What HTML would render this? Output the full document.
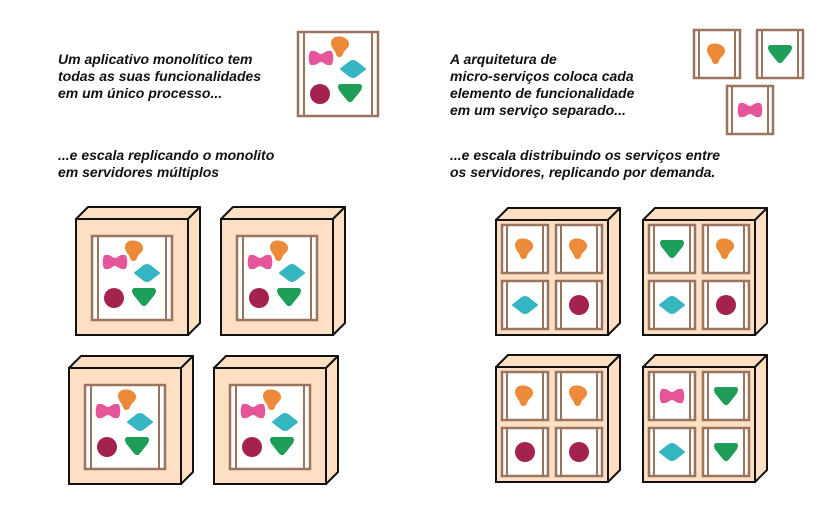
<!DOCTYPE html>
<html><head><meta charset="utf-8"><style>
html,body{margin:0;padding:0;background:#fff}
svg{display:block}
text{font-family:"Liberation Sans",sans-serif;font-style:italic;font-weight:bold;font-size:14px;fill:#111}
</style></head><body>
<svg width="835" height="520" viewBox="0 0 835 520" xmlns="http://www.w3.org/2000/svg">
<defs>
  <path id="pink" d="M-10,-7 C-4,-8 -3,-4 0,-4 C3,-4 4,-8 10,-7 C13,-6 13,6 10,7 C4,8 3,4 0,4 C-3,4 -4,8 -10,7 C-13,6 -13,-6 -10,-7Z" fill="#e5559a"/>
  <path id="orange" d="M-6,-10 C1,-12 9,-8 8,-2 C7,2 3,3 2,7 C1,11 -4,11 -5,7 C-6,3 -10,1 -10,-4 C-10,-7 -8,-9 -6,-10Z" fill="#ec8a3a"/>
  <path id="teal" d="M-12,0 L-3,-7 Q0,-9 3,-7 L12,0 L3,7 Q0,9 -3,7Z" fill="#35b6c2" stroke="#35b6c2" stroke-width="2" stroke-linejoin="round"/>
  <circle id="circ" r="10" fill="#a3224f"/>
  <path id="tri" d="M-10,-8 L10,-8 Q12,-7 10,-3 L2,7 Q0,9 -2,7 L-10,-3 Q-12,-7 -10,-8Z" fill="#1e9e58" stroke="#1e9e58" stroke-width="2" stroke-linejoin="round"/>
  <g id="frame">
    <rect x="0" y="0" width="80" height="84" fill="#fff" stroke="#9b7460" stroke-width="2.5"/>
    <line x1="6" y1="0" x2="6" y2="84" stroke="#9b7460" stroke-width="2"/>
    <line x1="74" y1="0" x2="74" y2="84" stroke="#9b7460" stroke-width="2"/>
    <use href="#pink" x="23" y="26"/>
    <use href="#orange" x="43" y="15"/>
    <use href="#teal" x="55" y="37"/>
    <use href="#circ" x="22" y="62"/>
    <use href="#tri" x="52" y="61"/>
  </g>
  <g id="cell">
    <rect x="0" y="0" width="46" height="48" fill="#fff" stroke="#9b7460" stroke-width="2.5"/>
    <line x1="5" y1="0" x2="5" y2="48" stroke="#9b7460" stroke-width="2"/>
    <line x1="41" y1="0" x2="41" y2="48" stroke="#9b7460" stroke-width="2"/>
  </g>
  <g id="mserver">
    <polygon points="0,0 12,-12 124,-12 112,0" fill="#fde0c4" stroke="#111" stroke-width="2" stroke-linejoin="round"/>
    <polygon points="112,0 124,-12 124,104 112,116" fill="#fde0c4" stroke="#111" stroke-width="2" stroke-linejoin="round"/>
    <rect x="0" y="0" width="112" height="116" fill="#fde0c4" stroke="#111" stroke-width="2"/>
    <use href="#frame" x="16" y="17"/>
  </g>
  <g id="userver">
    <polygon points="0,0 12,-12 124,-12 112,0" fill="#fde0c4" stroke="#111" stroke-width="2" stroke-linejoin="round"/>
    <polygon points="112,0 124,-12 124,103 112,115" fill="#fde0c4" stroke="#111" stroke-width="2" stroke-linejoin="round"/>
    <rect x="0" y="0" width="112" height="115" fill="#fde0c4" stroke="#111" stroke-width="2"/>
    <use href="#cell" x="6" y="5"/><use href="#cell" x="60" y="5"/>
    <use href="#cell" x="6" y="61"/><use href="#cell" x="60" y="61"/>
  </g>
</defs>

<text x="58" y="64">Um aplicativo monolítico tem</text>
<text x="58" y="81">todas as suas funcionalidades</text>
<text x="58" y="98">em um único processo...</text>
<text x="58" y="160">...e escala replicando o monolito</text>
<text x="58" y="177">em servidores múltiplos</text>

<text x="450" y="64">A arquitetura de</text>
<text x="450" y="81">micro-serviços coloca cada</text>
<text x="450" y="98">elemento de funcionalidade</text>
<text x="450" y="115">em um serviço separado...</text>
<text x="450" y="160">...e escala distribuindo os serviços entre</text>
<text x="450" y="177">os servidores, replicando por demanda.</text>

<use href="#frame" x="298" y="32"/>

<use href="#mserver" x="76" y="219"/>
<use href="#mserver" x="221" y="219"/>
<use href="#mserver" x="69" y="368"/>
<use href="#mserver" x="214" y="368"/>

<g transform="translate(694,30)"><use href="#cell"/><use href="#orange" x="23" y="24"/></g>
<g transform="translate(757,30)"><use href="#cell"/><use href="#tri" x="23" y="24"/></g>
<g transform="translate(727,86)"><use href="#cell"/><use href="#pink" x="23" y="24"/></g>

<g transform="translate(496,220)"><use href="#userver"/>
  <use href="#orange" x="29" y="29"/><use href="#orange" x="83" y="29"/>
  <use href="#teal" x="29" y="85"/><use href="#circ" x="83" y="85"/></g>
<g transform="translate(643,220)"><use href="#userver"/>
  <use href="#tri" x="29" y="29"/><use href="#orange" x="83" y="29"/>
  <use href="#teal" x="29" y="85"/><use href="#circ" x="83" y="85"/></g>
<g transform="translate(496,367)"><use href="#userver"/>
  <use href="#orange" x="29" y="29"/><use href="#orange" x="83" y="29"/>
  <use href="#circ" x="29" y="85"/><use href="#circ" x="83" y="85"/></g>
<g transform="translate(643,367)"><use href="#userver"/>
  <use href="#pink" x="29" y="29"/><use href="#tri" x="83" y="29"/>
  <use href="#teal" x="29" y="85"/><use href="#tri" x="83" y="85"/></g>
</svg>
</body></html>
